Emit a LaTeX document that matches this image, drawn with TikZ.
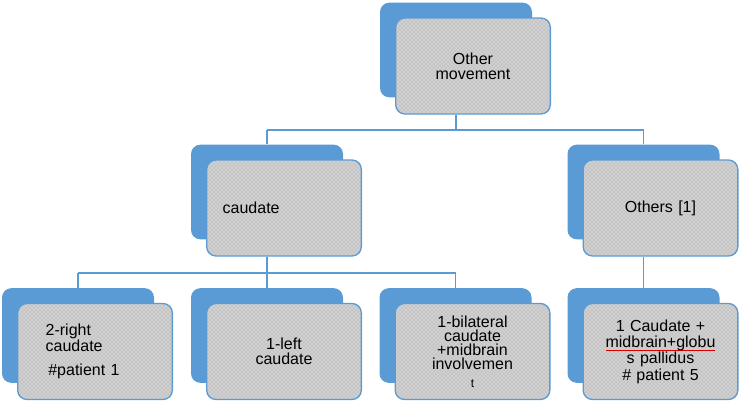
\documentclass[tikz,border=0pt]{standalone}
\usepackage{fontspec}
\setmainfont{Liberation Sans}
\usetikzlibrary{patterns}
\definecolor{boxblue}{RGB}{91,155,213}
\definecolor{cardgray}{RGB}{196,196,196}
\newlength\spellwd
\newcommand\spellmark[1]{\leavevmode\settowidth\spellwd{#1}\rlap{\color{red!85!black}\rule[-2.6pt]{\spellwd}{0.5pt}}#1}

\begin{document}
\begin{tikzpicture}[x=0.75pt,y=-0.75pt,
    back/.style={fill=boxblue,rounded corners=7pt,minimum width=114pt,minimum height=71pt,inner sep=0pt},
    card/.style={draw=boxblue,line width=1pt,rounded corners=7pt,preaction={fill=cardgray},pattern=crosshatch dots,pattern color=white,
      minimum width=116pt,minimum height=72pt,inner sep=0pt,text width=116pt,align=center,font=\fontsize{12}{11}\selectfont},
    conn/.style={draw=boxblue,line width=1.1pt}]
        \useasboundingbox (0,0) rectangle (740,404);
        \coordinate (bus1) at (0,130);
        \coordinate (bus2) at (0,273);
        \node[back] (movementbk) at (456,50) {};
        \node[back] (caudatebk) at (267,192) {};
        \node[back] (othersbk) at (643.5,192) {};
        \node[back] (rightbk) at (78,335.5) {};
        \node[back] (leftbk) at (267,335.5) {};
        \node[back] (bilatbk) at (455.5,335.5) {};
        \node[back] (pallidbk) at (643.5,335.5) {};
        \node[card] (movement) at ([shift={(17,16)}]movementbk.center) {Other\\movement};
        \node[card,text width=92pt,align=left] (caudate) at ([shift={(17,16)}]caudatebk.center) {caudate};
        \node[card] (others) at ([shift={(17,16)}]othersbk.center) {Others [1]};
        \node[card,text width=74pt,align=left] (right) at ([shift={(17,16)}]rightbk.center) {2-right\\caudate\\[7pt]\hspace{2pt}\#patient 1};
        \node[card] (left) at ([shift={(17,16)}]leftbk.center) {1-left\\caudate};
        \node[card,font=\fontsize{12}{10.5}\selectfont] (bilat) at ([shift={(17,16)}]bilatbk.center) {1-bilateral\\caudate\\+midbrain\\involvemen\\[3pt]{\fontsize{9}{9}\selectfont t}};
        \node[card,font=\fontsize{12}{12.2}\selectfont] (pallid) at ([shift={(17,16)}]pallidbk.center) {1 Caudate +\\\spellmark{midbrain+globu}\\s pallidus\\\# patient 5};
        \draw[conn] (movement.south -| movementbk) -- (movementbk |- bus1);
        \draw[conn] (caudatebk |- bus1) -- (othersbk |- bus1);
        \draw[conn] (caudatebk |- bus1) -- (caudatebk.north);
        \draw[conn] (othersbk |- bus1) -- (othersbk.north);
        \draw[conn] (caudate.south -| caudatebk) -- (caudatebk |- bus2);
        \draw[conn] (rightbk |- bus2) -- (bilatbk |- bus2);
        \draw[conn] (rightbk |- bus2) -- (rightbk.north);
        \draw[conn] (leftbk |- bus2) -- (leftbk.north);
        \draw[conn] (bilatbk |- bus2) -- (bilatbk.north);
        \draw[conn] (others.south -| othersbk) -- (pallidbk.north);
    \end{tikzpicture}
\end{document}
